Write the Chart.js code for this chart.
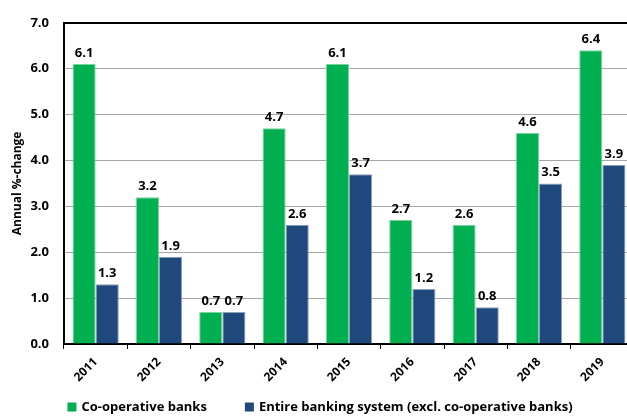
<!DOCTYPE html>
<html>
<head>
<meta charset="utf-8">
<script src="https://cdn.jsdelivr.net/npm/chart.js@4/dist/chart.umd.min.js"></script>
<style>
  html, body { margin: 0; padding: 0; background: #fff; overflow: hidden; }
  #wrap { width: 640px; height: 417px; }
</style>
</head>
<body>
<div id="wrap"><canvas id="growth-chart" width="640" height="417"></canvas></div>
<script>
'use strict';

const years = ['2011', '2012', '2013', '2014', '2015', '2016', '2017', '2018', '2019'];
const coopBanks = [6.1, 3.2, 0.7, 4.7, 6.1, 2.7, 2.6, 4.6, 6.4];
const entireSystem = [1.3, 1.9, 0.7, 2.6, 3.7, 1.2, 0.8, 3.5, 3.9];
const yTicks = [0, 1, 2, 3, 4, 5, 6, 7];

const FONT = '"Open Sans", "Noto Sans", sans-serif';

// value written above every bar
const valueLabels = {
    id: 'valueLabels',
    afterDatasetsDraw(chart) {
        const ctx = chart.ctx;
        ctx.save();
        ctx.font = 'bold 13px ' + FONT;
        ctx.fillStyle = '#000';
        ctx.textAlign = 'center';
        ctx.textBaseline = 'alphabetic';
        chart.data.datasets.forEach((ds, i) => {
            chart.getDatasetMeta(i).data.forEach((bar, j) => {
                ctx.fillText(ds.data[j].toFixed(1), bar.x, bar.y - 7);
            });
        });
        ctx.restore();
    }
};

// legend row along the bottom, wider gaps than the built-in one allows
const bottomLegend = {
    id: 'bottomLegend',
    afterDraw(chart) {
        const ctx = chart.ctx;
        const box = 9, textGap = 5, itemGap = 38, y = 407;
        ctx.save();
        ctx.font = 'bold 13px ' + FONT;
        ctx.textBaseline = 'middle';
        ctx.textAlign = 'left';
        const items = chart.data.datasets.map(ds => ({
            text: ds.label,
            color: ds.backgroundColor,
            w: box + textGap + ctx.measureText(ds.label).width,
        }));
        const total = items.reduce((s, it) => s + it.w, 0) + itemGap * (items.length - 1);
        let x = 320 - total / 2;
        items.forEach(it => {
            ctx.fillStyle = it.color;
            ctx.fillRect(x, y - box / 2, box, box);
            ctx.fillStyle = '#000';
            ctx.fillText(it.text, x + box + textGap, y);
            x += it.w + itemGap;
        });
        ctx.restore();
    }
};

window.addEventListener('load', () => {
    const config = {
        type: 'bar',
        data: {
            labels: years,
            datasets: [
                {
                    label: 'Co-operative banks',
                    data: coopBanks,
                    backgroundColor: '#00B050',
                    borderColor: '#7AD3A0',
                    borderWidth: 1,
                    categoryPercentage: 0.73,
                    barPercentage: 1.0,
                },
                {
                    label: 'Entire banking system (excl. co-operative banks)',
                    data: entireSystem,
                    backgroundColor: '#1F497D',
                    borderColor: '#8E9FB8',
                    borderWidth: 1,
                    categoryPercentage: 0.73,
                    barPercentage: 1.0,
                }
            ]
        },
        options: {
            responsive: false,
            animation: false,
            layout: { padding: { top: 18, right: 6, left: 0, bottom: 28 } },
            plugins: {
                legend: { display: false },
                tooltip: { enabled: false },
            },
            scales: {
                x: {
                    border: { color: '#000', width: 2 },
                    grid: {
                        offset: true,
                        drawOnChartArea: false,
                        tickLength: 5,
                        color: '#000',
                    },
                    ticks: {
                        minRotation: 45,
                        maxRotation: 45,
                        padding: 6,
                        color: '#000',
                        font: { family: FONT, size: 12, weight: 'bold' },
                    },
                    afterFit(scale) { scale.height = 45; },
                },
                y: {
                    min: 0,
                    max: 7,
                    afterBuildTicks(scale) {
                        scale.ticks = yTicks.map(v => ({ value: v }));
                    },
                    border: { color: '#000', width: 2 },
                    grid: {
                        color: ctx => ctx.tick && ctx.tick.value === 7 ? '#000' : '#A6A6A6',
                        lineWidth: ctx => ctx.tick && ctx.tick.value === 7 ? 2 : 1,
                        drawTicks: false,
                    },
                    ticks: {
                        padding: 15,
                        color: '#000',
                        font: { family: FONT, size: 13, weight: 'bold' },
                        callback: v => Number(v).toFixed(1),
                    },
                    title: {
                        display: true,
                        text: 'Annual %-change',
                        color: '#000',
                        padding: { top: 10, bottom: 0 },
                        font: { family: FONT, size: 12, weight: 'bold' },
                    },
                    afterFit(scale) { scale.width = 64; },
                },
            },
        },
        plugins: [valueLabels, bottomLegend],
    };
    new Chart(document.getElementById('growth-chart'), config);
});
</script>
</body>
</html>
